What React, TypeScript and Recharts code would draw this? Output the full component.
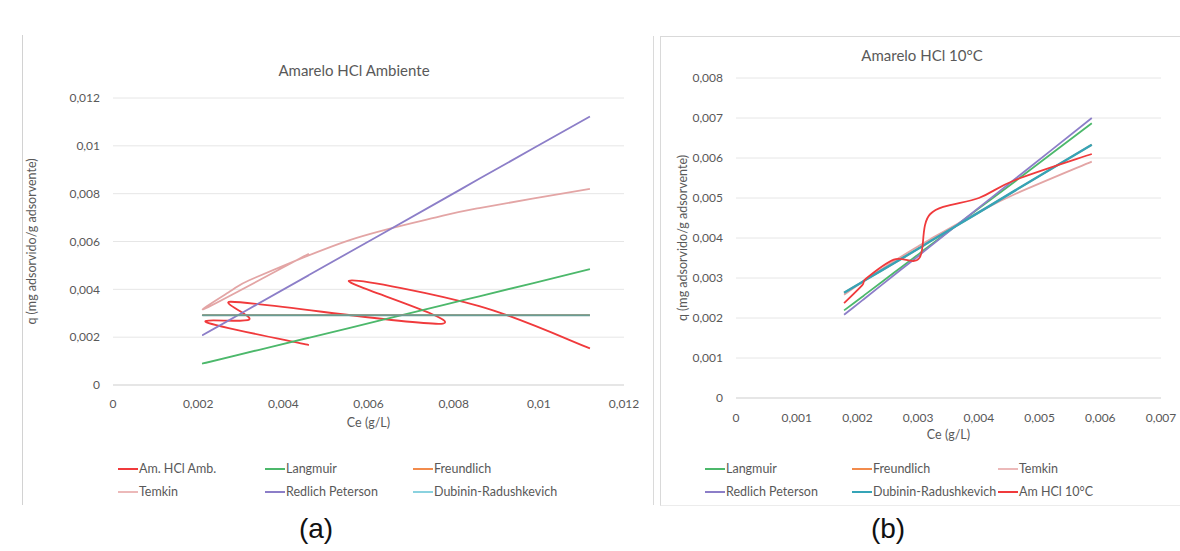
import React from 'react';
import { LineChart, Line, XAxis, YAxis, CartesianGrid } from 'recharts';

// ---------- Panel (a): Amarelo HCl Ambiente ----------
// experimental series (in table order, not sorted)
const ceAmb = [0.0046, 0.0022, 0.0032, 0.00277, 0.00775, 0.00554, 0.0086, 0.0112];
const qAmb = [0.00167, 0.00262, 0.00274, 0.00348, 0.00257, 0.00436, 0.0033, 0.00153];
// model series
const ceModelAmb = [0.0046, 0.00218, 0.00277, 0.0032, 0.00554, 0.00775, 0.0086, 0.0112];
const langmuirAmb = [0.00198, 0.00093, 0.00119, 0.00137, 0.00238, 0.00334, 0.00371, 0.00484];
const freundlichAmb = [0.00292, 0.00292, 0.00292, 0.00292, 0.00292, 0.00292, 0.00292, 0.00292];
const temkinAmb = [0.00549, 0.00321, 0.00394, 0.00438, 0.00605, 0.00708, 0.0074, 0.0082];
const redlichAmb = [0.00459, 0.00216, 0.00275, 0.00319, 0.00554, 0.00776, 0.00862, 0.01123];
const dubininAmb = [0.00292, 0.00292, 0.00292, 0.00292, 0.00292, 0.00292, 0.00292, 0.00292];
const xTicksA = [0, 0.002, 0.004, 0.006, 0.008, 0.01, 0.012];
const yTicksA = [0, 0.002, 0.004, 0.006, 0.008, 0.01, 0.012];

// ---------- Panel (b): Amarelo HCl 10°C ----------
const ce10 = [0.00178, 0.00208, 0.00213, 0.0026, 0.00302, 0.0032, 0.004, 0.0046, 0.00586];
const q10 = [0.00237, 0.00282, 0.00297, 0.00346, 0.0035, 0.0046, 0.005, 0.00545, 0.0061];
const langmuir10 = [0.00219, 0.00253, 0.00259, 0.00313, 0.00361, 0.00382, 0.00474, 0.00542, 0.00687];
const freundlich10 = [0.00263, 0.0029, 0.00295, 0.00337, 0.00375, 0.00392, 0.00464, 0.00519, 0.00633];
const temkin10 = [0.00258, 0.0029, 0.00295, 0.00342, 0.00381, 0.00397, 0.00465, 0.0051, 0.00591];
const redlich10 = [0.00208, 0.00244, 0.0025, 0.00307, 0.00357, 0.00379, 0.00476, 0.00548, 0.007];
const dubinin10 = [0.00263, 0.0029, 0.00295, 0.00337, 0.00375, 0.00392, 0.00464, 0.00519, 0.00633];
const xTicksB = [0, 0.001, 0.002, 0.003, 0.004, 0.005, 0.006, 0.007];
const yTicksB = [0, 0.001, 0.002, 0.003, 0.004, 0.005, 0.006, 0.007, 0.008];

const FONT = "Lato, 'Open Sans', 'Liberation Sans', sans-serif";
const TXT = '#595959';
const GRID = '#e6e6e6';

const C_RED = '#f03a3c';
const C_LANG = '#4cb86b';
const C_FREU = '#f28b4c';
const C_TEMK = '#e3a5a5';
const C_TEMK_LEG = '#ecb9b9';
const C_RP = '#8c7ec8';
const C_DR_A_LINE = '#6a9d94';
const C_DR_A_LEG = '#8ad2df';
const C_DR_B = '#35a4b7';

const rows = (xs: number[], ys: number[]) => xs.map((x, i) => ({ x, y: ys[i] }));

const fmt = (v: number) => {
  if (Math.abs(v) < 1e-12) return '0';
  return v.toFixed(3).replace(/0+$/, '').replace('.', ',');
};

// Excel-like smoothed line (Bezier with limited Catmull-Rom tangents)
function excelSmooth(context: any) {
  let pts: number[][] = [];
  return {
    areaStart() {},
    areaEnd() {},
    lineStart() {
      pts = [];
    },
    point(x: number, y: number) {
      pts.push([+x, +y]);
    },
    lineEnd() {
      const n = pts.length;
      if (!n) return;
      context.moveTo(pts[0][0], pts[0][1]);
      for (let i = 0; i < n - 1; i++) {
        const p0 = pts[Math.max(0, i - 1)];
        const p1 = pts[i];
        const p2 = pts[i + 1];
        const p3 = pts[Math.min(n - 1, i + 2)];
        const seg = Math.hypot(p2[0] - p1[0], p2[1] - p1[1]);
        let v1x = (p2[0] - p0[0]) / 6;
        let v1y = (p2[1] - p0[1]) / 6;
        let v2x = (p3[0] - p1[0]) / 6;
        let v2y = (p3[1] - p1[1]) / 6;
        const lim = seg / 2;
        const l1 = Math.hypot(v1x, v1y);
        const l2 = Math.hypot(v2x, v2y);
        if (l1 > lim && l1 > 0) {
          v1x *= lim / l1;
          v1y *= lim / l1;
        }
        if (l2 > lim && l2 > 0) {
          v2x *= lim / l2;
          v2y *= lim / l2;
        }
        context.bezierCurveTo(p1[0] + v1x, p1[1] + v1y, p2[0] - v2x, p2[1] - v2y, p2[0], p2[1]);
      }
    },
  };
}

const tickStyle = { fontSize: 12, fill: TXT, fontFamily: FONT };
const axisTitleStyle = { fontSize: 12.5, fill: TXT, fontFamily: FONT };

function LegendItem({ left, top, color, label }: { left: number; top: number; color: string; label: string }) {
  return (
    <div style={{ position: 'absolute', left, top: top - 8, height: 16, display: 'flex', alignItems: 'center', whiteSpace: 'nowrap' }}>
      <div style={{ width: 20, height: 2, background: color, marginRight: 1 }} />
      <span style={{ fontSize: 12.5, color: TXT, fontFamily: FONT, lineHeight: '16px' }}>{label}</span>
    </div>
  );
}

export default function App() {
  const lineProps = {
    type: excelSmooth as any,
    dataKey: 'y',
    dot: false,
    isAnimationActive: false,
    strokeWidth: 1.8,
    activeDot: false as any,
  };
  return (
    <div
      style={{
        position: 'absolute',
        left: 0,
        top: 0,
        width: 1180,
        height: 551,
        background: '#ffffff',
        overflow: 'hidden',
        fontFamily: FONT,
      }}
    >
      {/* panel frames */}
      <div style={{ position: 'absolute', left: 22, top: 35, width: 1, height: 470, background: '#d2d2d2' }} />
      <div style={{ position: 'absolute', left: 653, top: 36, width: 1, height: 469, background: '#dadada' }} />
      <div
        style={{
          position: 'absolute',
          left: 660,
          top: 36,
          width: 530,
          height: 468,
          borderTop: '1px solid #d9d9d9',
          borderLeft: '1px solid #d9d9d9',
          borderBottom: '1px solid #ececec',
        }}
      />

      {/* titles */}
      <div style={{ position: 'absolute', left: 204, top: 61, width: 300, textAlign: 'center', fontSize: 15, color: TXT, lineHeight: '18px' }}>
        Amarelo HCl Ambiente
      </div>
      <div style={{ position: 'absolute', left: 772, top: 46, width: 300, textAlign: 'center', fontSize: 15, color: TXT, lineHeight: '18px' }}>
        Amarelo HCl 10°C
      </div>

      {/* chart (a) */}
      <div style={{ position: 'absolute', left: 0, top: 0 }}>
        <LineChart width={650} height={430} margin={{ top: 98, right: 26, bottom: 0, left: 0 }}>
          <CartesianGrid horizontal vertical={false} stroke={GRID} />
          <XAxis
            type="number"
            dataKey="x"
            domain={[0, 0.012]}
            ticks={xTicksA}
            tickFormatter={fmt}
            tick={tickStyle}
            tickLine={false}
            tickMargin={8}
            axisLine={{ stroke: '#d9d9d9' }}
            height={45}
            allowDataOverflow
            label={{ value: 'Ce (g/L)', position: 'insideBottom', offset: 3, style: axisTitleStyle }}
          />
          <YAxis
            type="number"
            domain={[0, 0.012]}
            ticks={yTicksA}
            tickFormatter={fmt}
            tick={tickStyle}
            tickLine={false}
            axisLine={false}
            tickMargin={7}
            width={113}
            allowDataOverflow
            label={{
              value: 'q (mg adsorvido/g adsorvente)',
              angle: -90,
              position: 'insideLeft',
              offset: 32,
              style: { ...axisTitleStyle, textAnchor: 'middle' },
            }}
          />
          <Line {...lineProps} data={rows(ceAmb, qAmb)} stroke={C_RED} name="Am. HCl Amb." />
          <Line {...lineProps} data={rows(ceModelAmb, langmuirAmb)} stroke={C_LANG} name="Langmuir" />
          <Line {...lineProps} data={rows(ceModelAmb, freundlichAmb)} stroke={C_FREU} name="Freundlich" />
          <Line {...lineProps} data={rows(ceModelAmb, temkinAmb)} stroke={C_TEMK} name="Temkin" />
          <Line {...lineProps} data={rows(ceModelAmb, redlichAmb)} stroke={C_RP} name="Redlich Peterson" />
          <Line {...lineProps} data={rows(ceModelAmb, dubininAmb)} stroke={C_DR_A_LINE} strokeWidth={2} name="Dubinin-Radushkevich" />
        </LineChart>
      </div>

      {/* chart (b) */}
      <div style={{ position: 'absolute', left: 620, top: 0 }}>
        <LineChart width={560} height={443} margin={{ top: 78, right: 19, bottom: 0, left: 0 }}>
          <CartesianGrid horizontal vertical={false} stroke={GRID} />
          <XAxis
            type="number"
            dataKey="x"
            domain={[0, 0.007]}
            ticks={xTicksB}
            tickFormatter={fmt}
            tick={tickStyle}
            tickLine={false}
            tickMargin={9}
            axisLine={{ stroke: '#d9d9d9' }}
            height={45}
            allowDataOverflow
            label={{ value: 'Ce (g/L)', position: 'insideBottom', offset: 4, style: axisTitleStyle }}
          />
          <YAxis
            type="number"
            domain={[0, 0.008]}
            ticks={yTicksB}
            tickFormatter={fmt}
            tick={tickStyle}
            tickLine={false}
            axisLine={false}
            tickMargin={7}
            width={116}
            allowDataOverflow
            label={{
              value: 'q (mg adsorvido/g adsorvente)',
              angle: -90,
              position: 'insideLeft',
              offset: 63,
              style: { ...axisTitleStyle, textAnchor: 'middle' },
            }}
          />
          <Line {...lineProps} data={rows(ce10, langmuir10)} stroke={C_LANG} name="Langmuir" />
          <Line {...lineProps} data={rows(ce10, freundlich10)} stroke={C_FREU} name="Freundlich" />
          <Line {...lineProps} data={rows(ce10, temkin10)} stroke={C_TEMK} name="Temkin" />
          <Line {...lineProps} data={rows(ce10, redlich10)} stroke={C_RP} name="Redlich Peterson" />
          <Line {...lineProps} data={rows(ce10, dubinin10)} stroke={C_DR_B} strokeWidth={2.4} name="Dubinin-Radushkevich" />
          <Line {...lineProps} data={rows(ce10, q10)} stroke={C_RED} name="Am HCl 10°C" />
        </LineChart>
      </div>

      {/* legends */}
      <LegendItem left={118} top={469} color={C_RED} label="Am. HCl Amb." />
      <LegendItem left={265} top={469} color={C_LANG} label="Langmuir" />
      <LegendItem left={413} top={469} color={C_FREU} label="Freundlich" />
      <LegendItem left={118} top={492} color={C_TEMK_LEG} label="Temkin" />
      <LegendItem left={265} top={492} color={C_RP} label="Redlich Peterson" />
      <LegendItem left={413} top={492} color={C_DR_A_LEG} label="Dubinin-Radushkevich" />

      <LegendItem left={705} top={469} color={C_LANG} label="Langmuir" />
      <LegendItem left={852} top={469} color={C_FREU} label="Freundlich" />
      <LegendItem left={998} top={469} color={C_TEMK_LEG} label="Temkin" />
      <LegendItem left={705} top={492} color={C_RP} label="Redlich Peterson" />
      <LegendItem left={852} top={492} color={C_DR_B} label="Dubinin-Radushkevich" />
      <LegendItem left={998} top={492} color={C_RED} label="Am HCl 10°C" />

      {/* panel captions */}
      <div style={{ position: 'absolute', left: 266, top: 512, width: 100, textAlign: 'center', fontSize: 28, color: '#111', fontFamily: "'Liberation Sans', Arial, sans-serif", lineHeight: '34px' }}>
        (a)
      </div>
      <div style={{ position: 'absolute', left: 838, top: 512, width: 100, textAlign: 'center', fontSize: 28, color: '#111', fontFamily: "'Liberation Sans', Arial, sans-serif", lineHeight: '34px' }}>
        (b)
      </div>
    </div>
  );
}
